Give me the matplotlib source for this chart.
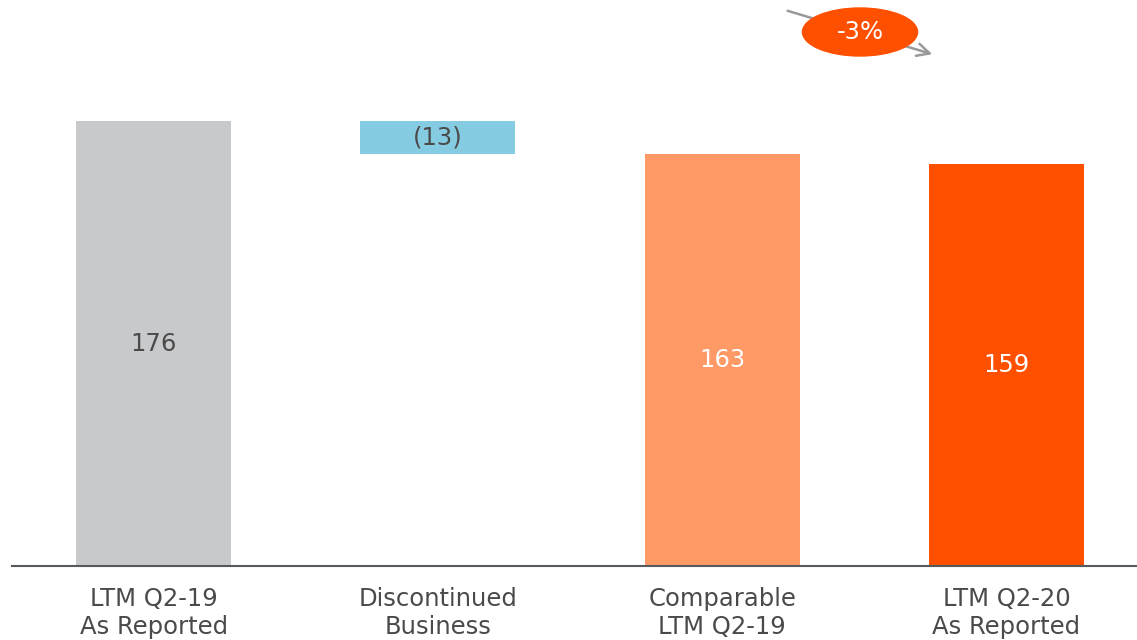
import matplotlib.pyplot as plt
from matplotlib.patches import Ellipse

# waterfall data
categories = ["LTM Q2-19\nAs Reported", "Discontinued\nBusiness",
              "Comparable\nLTM Q2-19", "LTM Q2-20\nAs Reported"]
values = [176, -13, 163, 159]
labels = ["176", "(13)", "163", "159"]
change_label = "-3%"

colors = ["#C8C9CB", "#85CCE2", "#FF9966", "#FF5000"]
text_colors = ["#4A4A4A", "#4A4A4A", "white", "white"]
text_grey = "#4A4A4A"
fs = 17.5

fig = plt.figure(figsize=(11.37, 6.4), dpi=100)
ax = fig.add_axes([12 / 1137, 1 - 566 / 640, 1 - 12 / 1137, 566 / 640])

# bottoms: totals start at zero, the step hangs from the previous total
bottoms = [0, values[0] + values[1], 0, 0]
heights = [values[0], -values[1], values[2], values[3]]
x = range(len(categories))
ax.bar(x, heights, bottom=bottoms, width=0.545, color=colors)

for i in x:
    ax.text(i, bottoms[i] + heights[i] / 2, labels[i], ha="center", va="center",
            fontsize=fs, color=text_colors[i])

ax.set_xlim(-0.498, 3.459)
ax.set_ylim(0, 223.9)
ax.set_xticks(list(x))
ax.set_xticklabels(categories, fontsize=fs, color=text_grey, linespacing=1.22)
ax.tick_params(axis="x", length=0, pad=15)
ax.set_yticks([])
for s in ["top", "right", "left"]:
    ax.spines[s].set_visible(False)
ax.spines["bottom"].set_color("#555A5F")
ax.spines["bottom"].set_linewidth(1.5)

# change indicator: grey arrow with orange ellipse badge
ax.annotate("", xy=(935 / 1137, 1 - 55 / 640), xytext=(785 / 1137, 1 - 10 / 640),
            xycoords="figure fraction", textcoords="figure fraction",
            arrowprops=dict(arrowstyle="->,head_length=0.9,head_width=0.45",
                            color="#999999", lw=1.8))
badge = Ellipse((860 / 1137, 1 - 32 / 640), 115 / 1137, 48 / 640,
                transform=fig.transFigure, color="#FF5000", zorder=5)
fig.patches.append(badge)
fig.text(860 / 1137, 1 - 32 / 640, change_label, ha="center", va="center",
         fontsize=fs, color="white", zorder=6)

fig.savefig("out.png", dpi=100)
